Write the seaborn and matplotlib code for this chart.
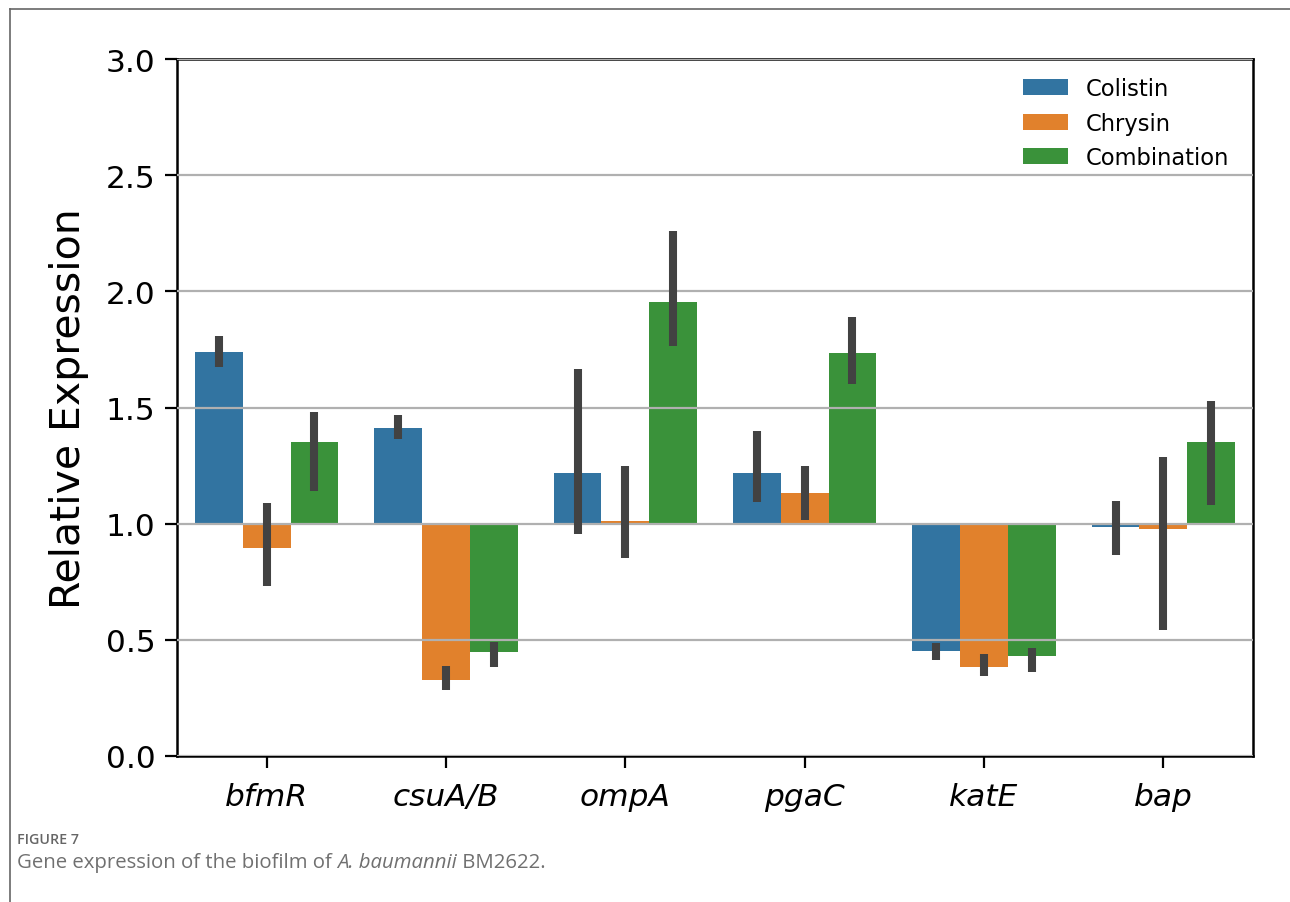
import matplotlib
matplotlib.use("Agg")
import matplotlib.pyplot as plt
import seaborn as sns
import pandas as pd
from matplotlib.lines import Line2D

# ---- data ----
genes = ["bfmR", "csuA/B", "ompA", "pgaC", "katE", "bap"]
treatments = ["Colistin", "Chrysin", "Combination"]
colistin = [1.74, 1.41, 1.22, 1.22, 0.45, 0.985]
chrysin = [0.895, 0.327, 1.012, 1.132, 0.383, 0.975]
combination = [1.352, 0.449, 1.953, 1.735, 0.429, 1.350]
colistin_lo = [1.675, 1.365, 0.954, 1.092, 0.413, 0.863]
colistin_hi = [1.808, 1.469, 1.667, 1.400, 0.486, 1.096]
chrysin_lo = [0.730, 0.284, 0.852, 1.016, 0.343, 0.542]
chrysin_hi = [1.089, 0.389, 1.247, 1.247, 0.438, 1.288]
combination_lo = [1.142, 0.382, 1.765, 1.603, 0.362, 1.082]
combination_hi = [1.479, 0.489, 2.258, 1.891, 0.467, 1.528]
baseline = 1.0
yticks = [0.0, 0.5, 1.0, 1.5, 2.0, 2.5, 3.0]

values = {"Colistin": colistin, "Chrysin": chrysin, "Combination": combination}
lows = {"Colistin": colistin_lo, "Chrysin": chrysin_lo, "Combination": combination_lo}
highs = {"Colistin": colistin_hi, "Chrysin": chrysin_hi, "Combination": combination_hi}

rows = []
for t in treatments:
    for g, v in zip(genes, values[t]):
        rows.append({"gene": g, "treatment": t, "value": v, "height": v - baseline})
df = pd.DataFrame(rows)

fig = plt.figure(figsize=(12.9, 9.03), dpi=100)
ax = fig.add_axes([177 / 1290, 1 - 757 / 903, (1253 - 177) / 1290, (757 - 60) / 903])

sns.barplot(data=df, x="gene", y="height", hue="treatment", order=genes,
            hue_order=treatments, palette="tab10", errorbar=None,
            bottom=baseline, legend=False, ax=ax)

# error bars at the bar centres given by seaborn
for cont, t in zip(ax.containers, treatments):
    for bar, lo, hi in zip(cont.patches, lows[t], highs[t]):
        xc = bar.get_x() + bar.get_width() / 2
        ax.vlines(xc, lo, hi, color="#424242", linewidth=5.8, zorder=4)

ax.set_ylim(0, 3.0)
ax.set_xlim(-0.5, len(genes) - 0.5)
ax.set_yticks(yticks)
ax.set_yticklabels([f"{v:.1f}" for v in yticks], fontsize=22.5)
ax.set_xticks(range(len(genes)))
ax.set_xticklabels(genes, fontsize=22.5, fontstyle="italic")
ax.set_xlabel("")
ax.set_ylabel("Relative Expression", fontsize=29.5, labelpad=12)
ax.yaxis.grid(True, color="#b0b0b0", linewidth=1.6, zorder=2.5)
ax.set_axisbelow(False)
ax.tick_params(axis="both", length=8.5, width=1.6, color="black")
ax.tick_params(axis="x", pad=10)
ax.tick_params(axis="y", pad=7)
for s in ax.spines.values():
    s.set_linewidth(1.8)
    s.set_color("black")

ax.legend(list(ax.containers), treatments, loc="upper right", frameon=False,
          fontsize=16.3, bbox_to_anchor=(0.997, 1.003), handlelength=2.0, labelspacing=0.5)

# page frame
fig.add_artist(Line2D([10 / 1290, 10 / 1290], [0, 1 - 10 / 903], transform=fig.transFigure,
                      color="#666666", linewidth=1.2))
fig.add_artist(Line2D([10 / 1290, 1], [1 - 10 / 903, 1 - 10 / 903], transform=fig.transFigure,
                      color="#666666", linewidth=1.2))

# caption
cap_font = ["Open Sans", "DejaVu Sans"]
fig.text(17 / 1290, 1 - 840 / 903, "FIGURE 7", fontsize=10.3, color="#666666",
         family=cap_font, fontweight="semibold", va="center", ha="left")
renderer = fig.canvas.get_renderer()
x0 = 17 / 1290
yc = 1 - 863 / 903
parts = [("Gene expression of the biofilm of ", "normal"), ("A. baumannii", "italic"), (" BM2622.", "normal")]
for txt, style in parts:
    t = fig.text(x0, yc, txt, fontsize=14.7, color="#707070", family=cap_font,
                 fontstyle=style, va="center", ha="left")
    bb = t.get_window_extent(renderer=renderer)
    x0 += bb.width / fig.bbox.width

fig.savefig("out.png", dpi=100)
